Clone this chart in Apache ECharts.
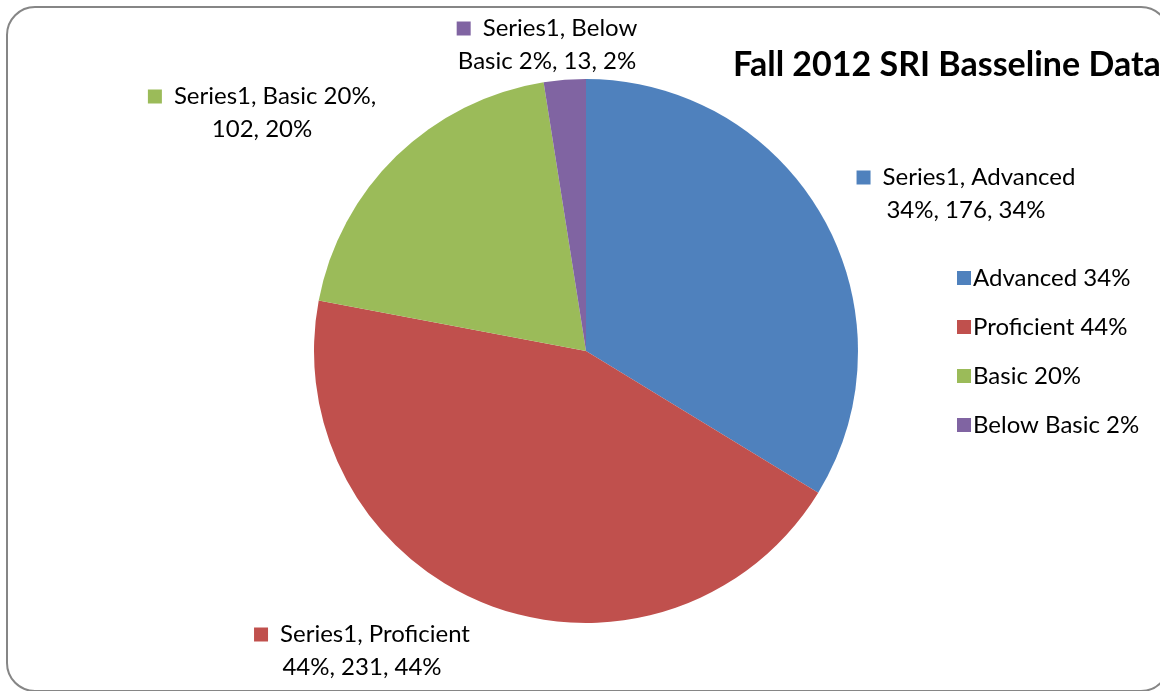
<!DOCTYPE html>
<html>
<head>
<meta charset="utf-8">
<script src="https://cdn.jsdelivr.net/npm/echarts@6/dist/echarts.min.js"></script>
<style>
    html, body { margin: 0; padding: 0; background: #fff; }
    #chart { width: 1160px; height: 691px; }
</style>
</head>
<body>
<div id="chart"></div>
<script>
// Chart data
var seriesName = 'Series1';
var categories = ['Advanced 34%', 'Proficient 44%', 'Basic 20%', 'Below Basic 2%'];
var values = [176, 231, 102, 13];
var colors = ['#4F81BD', '#C0504D', '#9BBB59', '#8064A2'];
// Words kept on the first line of each data label
var firstLineWords = [2, 2, 3, 2];
// Label anchor points (centre of label block)
var labelSpots = [[966, 194], [362, 651], [262, 113], [547, 45]];

var font = 'Lato';

var chart = echarts.init(document.getElementById('chart'));

// rich styles for the little colour keys in the data labels
var rich = { gap: { width: 12 } };
colors.forEach(function (c, i) {
    rich['sq' + i] = { width: 14, height: 14, backgroundColor: c };
});

chart.setOption({
    animation: false,
    title: {
        text: 'Fall 2012 SRI Basseline Data',
        left: 728,
        top: 43,
        textStyle: {
            fontFamily: font,
            fontSize: 34,
            fontWeight: 'bold',
            color: '#000'
        }
    },
    legend: {
        orient: 'vertical',
        left: 952,
        top: 261,
        itemWidth: 14,
        itemHeight: 14,
        itemGap: 25,
        icon: 'rect',
        data: categories,
        textStyle: {
            fontFamily: font,
            fontSize: 24,
            lineHeight: 24,
            color: '#000',
            padding: [0, 0, 0, -3]
        }
    },
    graphic: [{
        type: 'rect',
        shape: { x: 7, y: 7, width: 1162, height: 684, r: 28 },
        style: { fill: null, stroke: '#868686', lineWidth: 2 },
        z: -1
    }],
    series: [{
        name: seriesName,
        type: 'pie',
        center: [586, 351],
        radius: 272,
        startAngle: 90,
        clockwise: true,
        percentPrecision: 0,
        data: categories.map(function (c, i) {
            return { name: c, value: values[i], itemStyle: { color: colors[i] } };
        }),
        label: {
            show: true,
            position: 'outside',
            fontFamily: font,
            fontSize: 24,
            color: '#000',
            align: 'center',
            lineHeight: 33,
            formatter: function (p) {
                var words = (p.seriesName + ', ' + p.name + ', ' + p.value + ', ' + p.percent + '%').split(' ');
                var n = firstLineWords[p.dataIndex];
                return '{sq' + p.dataIndex + '|}{gap|}' + words.slice(0, n).join(' ') + '\n' + words.slice(n).join(' ');
            },
            rich: rich
        },
        labelLine: { show: false },
        labelLayout: function (p) {
            var s = labelSpots[p.dataIndex];
            return { x: s[0], y: s[1], align: 'center', verticalAlign: 'middle' };
        },
        emphasis: { disabled: true }
    }]
});
</script>
</body>
</html>
